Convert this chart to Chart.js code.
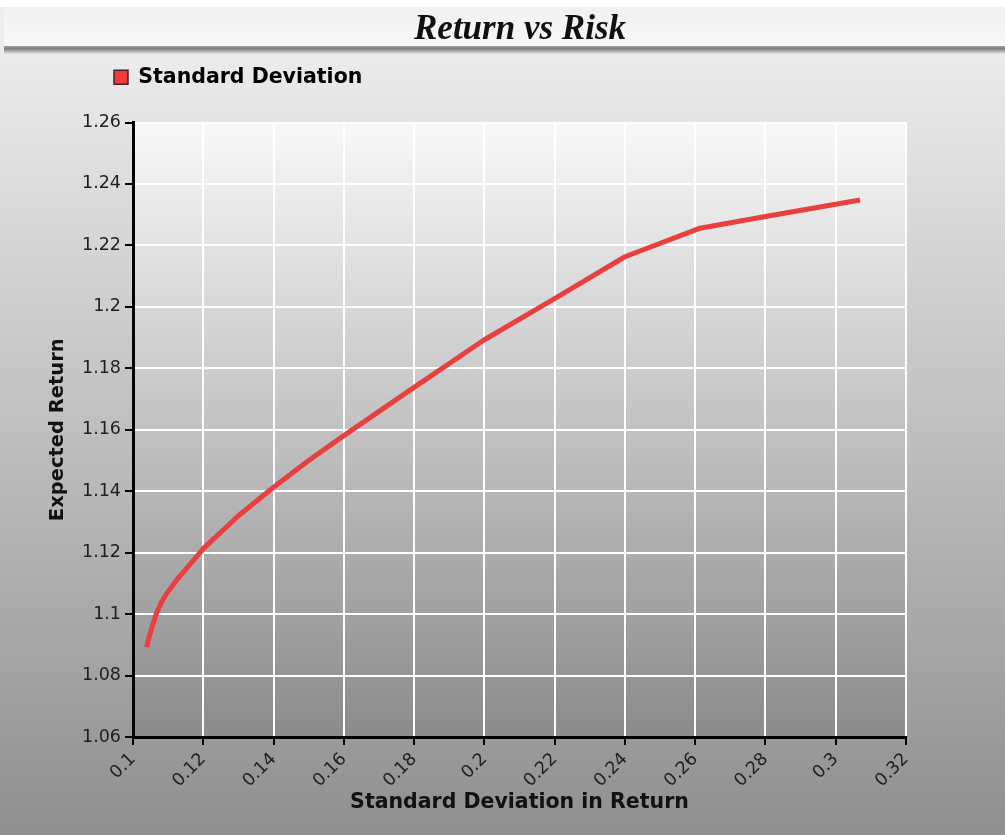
<!DOCTYPE html>
<html>
<head>
<meta charset="utf-8">
<title>Return vs Risk</title>
<script src="https://cdn.jsdelivr.net/npm/chart.js@4"></script>
<style>
  html, body { margin: 0; padding: 0; background: #ffffff; }
  canvas { display: block; }
</style>
</head>
<body>
<canvas id="riskChart" width="1005" height="835"></canvas>
<script>
// values
const stdDev = [0.1039, 0.1046, 0.1052, 0.1066, 0.1080, 0.1096, 0.1125, 0.1155, 0.1200, 0.1300, 0.1400, 0.1500,
                0.1600, 0.1800, 0.2000, 0.2200, 0.2400, 0.2614, 0.2800, 0.3069];
const expReturn = [1.0892, 1.0925, 1.0950, 1.1000, 1.1037, 1.1067, 1.1112, 1.1152, 1.1213, 1.1320, 1.1413, 1.1500,
                   1.1581, 1.1738, 1.1893, 1.2027, 1.2163, 1.2256, 1.2294, 1.2348];

const xTickValues = [0.1, 0.12, 0.14, 0.16, 0.18, 0.2, 0.22, 0.24, 0.26, 0.28, 0.3, 0.32];
const xTickLabels = ['0.1', '0.12', '0.14', '0.16', '0.18', '0.2', '0.22', '0.24', '0.26', '0.28', '0.3', '0.32'];
const yTickValues = [1.06, 1.08, 1.1, 1.12, 1.14, 1.16, 1.18, 1.2, 1.22, 1.24, 1.26];
const yTickLabels = ['1.06', '1.08', '1.1', '1.12', '1.14', '1.16', '1.18', '1.2', '1.22', '1.24', '1.26'];

const seriesName = 'Standard Deviation';
const lineColor = '#e8403f';

// fonds gris, bandeau du titre et zone de tracé
const backdrop = {
    id: 'backdrop',
    beforeDraw(chart) {
        const { ctx, width, height, chartArea: a } = chart;
        ctx.save();

        let g = ctx.createLinearGradient(0, 50, 0, height);
        g.addColorStop(0, '#ececec');
        g.addColorStop(1, '#8f8f8f');
        ctx.fillStyle = g;
        ctx.fillRect(0, 0, width, height);

        ctx.fillStyle = '#ffffff';
        ctx.fillRect(0, 0, width, 7);

        g = ctx.createLinearGradient(0, 7, 0, 47);
        g.addColorStop(0, '#f1f1f1');
        g.addColorStop(1, '#f8f8f8');
        ctx.fillStyle = g;
        ctx.fillRect(4, 7, width - 4, 41);

        g = ctx.createLinearGradient(0, 46, 0, 54);
        g.addColorStop(0, '#a0a0a0');
        g.addColorStop(0.35, '#7c7c7c');
        g.addColorStop(1, '#e8e8e8');
        ctx.fillStyle = g;
        ctx.fillRect(4, 46, width - 4, 8);

        g = ctx.createLinearGradient(0, a.top, 0, a.bottom);
        g.addColorStop(0, '#f8f8f8');
        g.addColorStop(1, '#8b8b8b');
        ctx.fillStyle = g;
        ctx.fillRect(a.left, a.top, a.right - a.left, a.bottom - a.top);

        ctx.restore();
    },
    afterLayout(chart) {
        // titre centré sur la page, légende au-dessus de l'axe
        if (chart.titleBlock) {
            chart.titleBlock.left = 0;
            chart.titleBlock.right = 1040;
        }
        if (chart.legend) {
            chart.legend.left = 104;
            chart.legend.top = 57;
        }
    }
};

const ctx = document.getElementById('riskChart').getContext('2d');
new Chart(ctx, {
    type: 'line',
    data: {
        datasets: [{
            label: seriesName,
            data: stdDev.map((x, i) => ({ x: x, y: expReturn[i] })),
            borderColor: lineColor,
            backgroundColor: lineColor,
            borderWidth: 5,
            borderJoinStyle: 'round',
            pointRadius: 0,
            pointHoverRadius: 0,
            tension: 0,
            fill: false
        }]
    },
    options: {
        responsive: false,
        animation: false,
        layout: { padding: { left: 0, right: 99, top: 0, bottom: 0 } },
        plugins: {
            title: {
                display: true,
                text: 'Return vs Risk',
                color: '#111111',
                font: { family: "'Liberation Serif', 'Times New Roman', serif", size: 35, weight: 'bold', style: 'italic' },
                padding: { top: 9, bottom: 31 }
            },
            legend: {
                display: true,
                align: 'start',
                labels: {
                    boxWidth: 14,
                    boxHeight: 14,
                    padding: 10,
                    color: '#111111',
                    font: { family: "'DejaVu Sans', sans-serif", size: 20.5, weight: 'bold' },
                    generateLabels: () => [{
                        text: seriesName,
                        fillStyle: '#f03c3c',
                        strokeStyle: '#4a2020',
                        lineWidth: 1.5,
                        datasetIndex: 0
                    }]
                }
            },
            tooltip: { enabled: false }
        },
        scales: {
            x: {
                type: 'linear',
                min: 0.1,
                max: 0.32,
                afterBuildTicks: scale => { scale.ticks = xTickValues.map(v => ({ value: v })); },
                afterFit: scale => { scale.height = 98; },
                ticks: {
                    autoSkip: false,
                    minRotation: 45,
                    maxRotation: 45,
                    padding: 4,
                    color: '#1e1e1e',
                    font: { family: "'DejaVu Sans', sans-serif", size: 17.5 },
                    callback: (v, i) => xTickLabels[i]
                },
                grid: { color: '#ffffff', lineWidth: 2, tickColor: '#000000', tickLength: 8, tickWidth: 2 },
                border: { display: true, color: '#000000', width: 3 },
                title: {
                    display: true,
                    text: 'Standard Deviation in Return',
                    color: '#111111',
                    font: { family: "'DejaVu Sans', sans-serif", size: 20.5, weight: 'bold' },
                    padding: { top: 0, bottom: 20 }
                }
            },
            y: {
                type: 'linear',
                min: 1.06,
                max: 1.26,
                afterBuildTicks: scale => { scale.ticks = yTickValues.map(v => ({ value: v })); },
                afterFit: scale => { scale.width = 133; },
                ticks: {
                    padding: 4,
                    color: '#1e1e1e',
                    font: { family: "'DejaVu Sans', sans-serif", size: 17.5 },
                    callback: (v, i) => yTickLabels[i]
                },
                grid: { color: '#ffffff', lineWidth: 2, tickColor: '#000000', tickLength: 8, tickWidth: 2 },
                border: { display: true, color: '#000000', width: 3 },
                title: {
                    display: true,
                    text: 'Expected Return',
                    color: '#111111',
                    font: { family: "'DejaVu Sans', sans-serif", size: 19.5, weight: 'bold' },
                    padding: { top: 46, bottom: 0 }
                }
            }
        }
    },
    plugins: [backdrop]
});
</script>
</body>
</html>
